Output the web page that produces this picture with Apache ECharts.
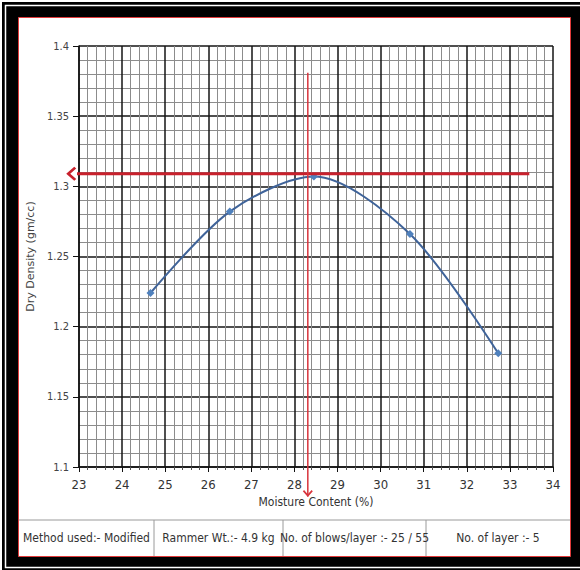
<!DOCTYPE html>
<html>
<head>
<meta charset="utf-8">
<script src="https://cdn.jsdelivr.net/npm/echarts@6/dist/echarts.min.js"></script>
<style>
html,body{margin:0;padding:0;background:#fff;}
#chart{width:580px;height:570px;}
</style>
</head>
<body>
<div id="chart"></div>
<script>
// ---- data ----
const moisture = [24.66, 26.5, 28.45, 30.68, 32.73];
const density  = [1.224, 1.282, 1.307, 1.266, 1.181];
const xRange = [23, 34];
const yRange = [1.1, 1.4];
const omc = 28.31;          // optimum moisture content (vertical red marker)
const mdd = 1.309;          // maximum dry density (horizontal red marker)
const hArrowX = [33.45, 22.75];
const vArrowY = [1.381, 1.079];
const tableTexts = ['Method used:- Modified', 'Rammer Wt.:- 4.9 kg', 'No. of blows/layer :- 25 / 55', 'No. of layer :- 5'];
const xTitle = 'Moisture Content (%)';
const yTitle = 'Dry Density (gm/cc)';

const FONT = "'Liberation Sans Narrow','DejaVu Sans Condensed','Liberation Sans',sans-serif";
const chart = echarts.init(document.getElementById('chart'), null, {renderer: 'svg'});

const points = moisture.map((m, i) => [m, density[i]]);
const chevLeft = 'path://M0,10 L10,0 L12.5,2.5 L5,10 L12.5,17.5 L10,20 Z';

// table geometry
const tblTop = 520, tblBot = 556, tblL = 19, tblR = 570;
const dividers = [154, 283, 426];
const cellEdges = [tblL, ...dividers, tblR];

const graphics = [
  {type:'rect', z:-10, shape:{x:2, y:2, width:578, height:568}, style:{fill:'#000'}},
  {type:'rect', z:-9, shape:{x:5.5, y:5.5, width:600, height:562}, style:{fill:'none', stroke:'#fff', lineWidth:1.5}},
  {type:'rect', z:-8, shape:{x:18.5, y:17.5, width:552, height:539}, style:{fill:'#fff', stroke:'#e03a3a', lineWidth:1}},
  {type:'line', z:-7, shape:{x1:tblL, y1:tblTop, x2:tblR, y2:tblTop}, style:{stroke:'#9a9a9a', lineWidth:1}}
];
dividers.forEach(d => graphics.push({type:'line', z:-7, shape:{x1:d, y1:tblTop, x2:d, y2:tblBot}, style:{stroke:'#9a9a9a', lineWidth:1}}));
tableTexts.forEach((t, i) => graphics.push({
  type:'text', z:5,
  x:(cellEdges[i] + cellEdges[i+1]) / 2, y:(tblTop + tblBot) / 2,
  style:{text:t, fill:'#333', font:'12px ' + FONT, textAlign:'center', textVerticalAlign:'middle'}
}));

const option = {
  animation: false,
  backgroundColor: 'transparent',
  graphic: graphics,
  grid: {left: 79, right: 27, top: 46, bottom: 103},
  xAxis: {
    type: 'value', min: xRange[0], max: xRange[1], interval: 1,
    name: xTitle, nameLocation: 'middle', nameGap: 27,
    nameTextStyle: {color: '#333', fontSize: 12, fontFamily: FONT},
    axisLine: {show: true, onZero: false, lineStyle: {color: '#111', width: 1.5}},
    axisTick: {show: true, length: 5, lineStyle: {color: '#111'}},
    minorTick: {show: true, splitNumber: 5, length: 3, lineStyle: {color: '#555'}},
    splitLine: {show: true, lineStyle: {color: '#151515', width: 1.5}},
    minorSplitLine: {show: true, lineStyle: {color: '#8c8c8c', width: 1}},
    axisLabel: {color: '#333', fontSize: 13, fontFamily: FONT, margin: 11}
  },
  yAxis: {
    type: 'value', min: yRange[0], max: yRange[1], interval: 0.05,
    name: yTitle, nameLocation: 'middle', nameGap: 26, nameRotate: 90,
    nameTextStyle: {color: '#444', fontSize: 11, fontFamily: "'DejaVu Sans','Liberation Sans',sans-serif"},
    axisLine: {show: true, lineStyle: {color: '#111', width: 1.5}},
    axisTick: {show: true, length: 6, lineStyle: {color: '#111'}},
    minorTick: {show: false, splitNumber: 5},
    splitLine: {show: true, lineStyle: {color: '#151515', width: 1.5}},
    minorSplitLine: {show: true, lineStyle: {color: '#8c8c8c', width: 1}},
    axisLabel: {color: '#444', fontSize: 11, fontFamily: FONT, margin: 10,
      formatter: v => String(+v.toFixed(2))}
  },
  series: [
    {
      type: 'line', data: points, smooth: 0.3,
      symbol: 'diamond', symbolSize: 8,
      lineStyle: {color: '#3f6399', width: 2},
      itemStyle: {color: '#4f81bd'},
      z: 3
    },
    {
      type: 'line', clip: false, z: 5, silent: true,
      data: [
        {value: [hArrowX[0], mdd], symbol: 'none'},
        {value: [hArrowX[1], mdd], symbol: chevLeft, symbolSize: [10, 14], symbolOffset: [3, 0]}
      ],
      lineStyle: {color: '#c8202c', width: 3},
      itemStyle: {color: '#c8202c'}
    },
    {
      type: 'line', clip: false, z: 5, silent: true,
      data: [
        {value: [omc, vArrowY[0]], symbol: 'none'},
        {value: [omc, vArrowY[1]], symbol: chevLeft, symbolSize: [7, 10], symbolRotate: 90, symbolOffset: [0, -3]}
      ],
      lineStyle: {color: '#d8343c', width: 1.5},
      itemStyle: {color: '#d8343c'}
    }
  ]
};
chart.setOption(option);
</script>
</body>
</html>
